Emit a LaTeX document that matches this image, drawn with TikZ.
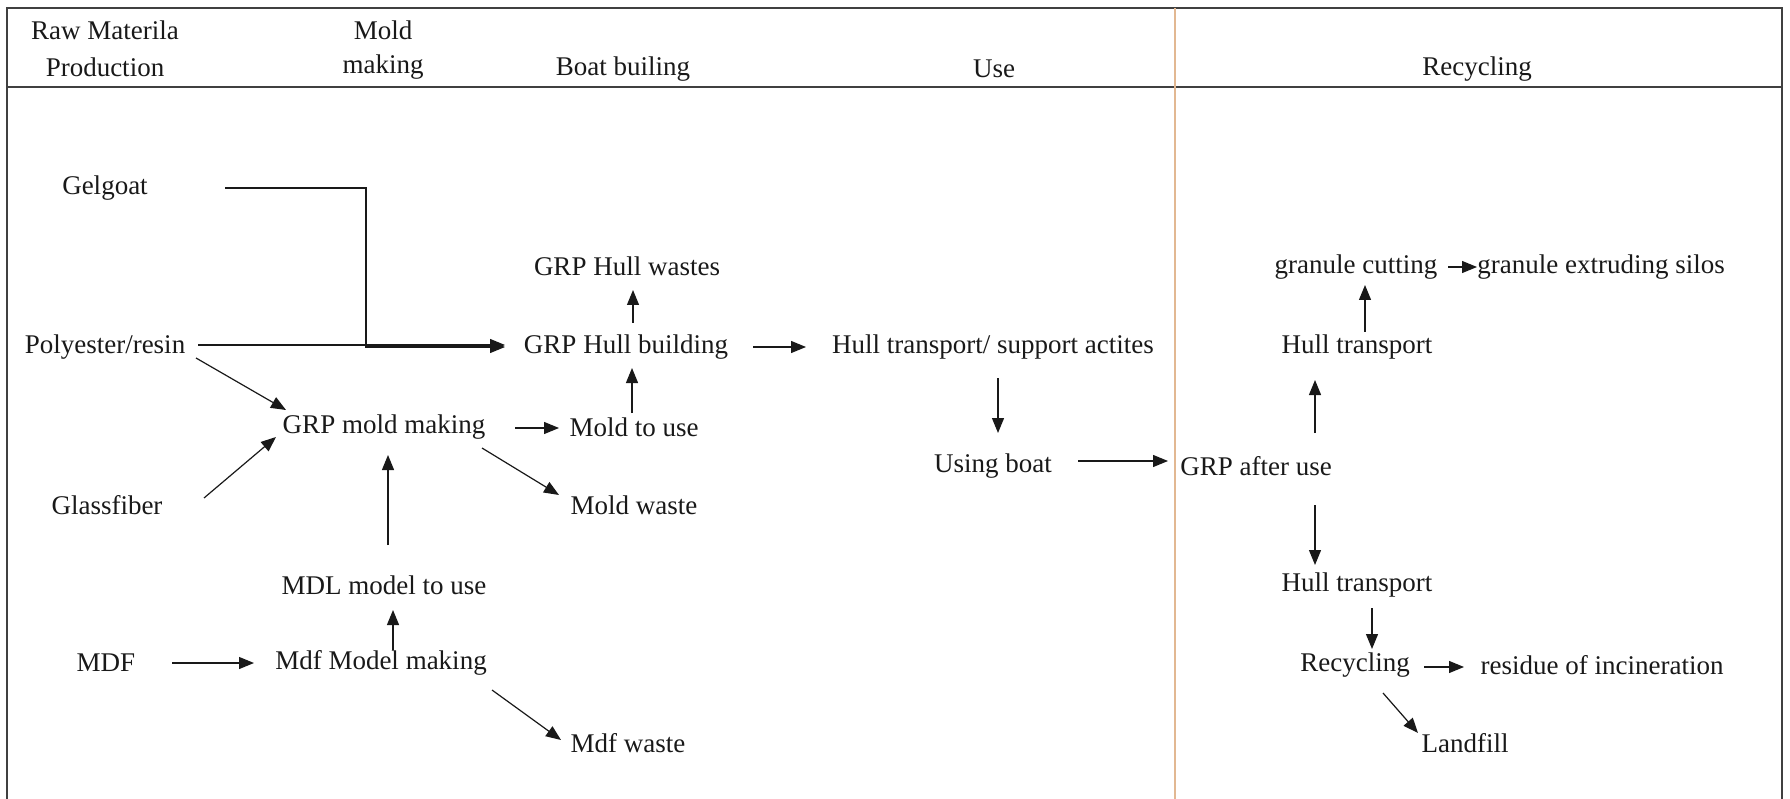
\documentclass[tikz,border=0pt]{standalone}
\usepackage{fontspec}
\setmainfont{Liberation Serif}
\usetikzlibrary{arrows.meta}
\definecolor{sepline}{RGB}{226,184,146}
\definecolor{ink}{RGB}{25,25,25}
\begin{document}
\begin{tikzpicture}[x=1pt,y=-1pt,
  lbl/.style={inner sep=0pt, font=\fontsize{27}{32}\selectfont, text=ink},
  arr/.style={draw=ink, line width=1.2pt, -{Triangle[length=15pt,width=12pt]}},
  frameline/.style={draw=black!75, line width=1.8pt}]
\useasboundingbox (0,0) rectangle (1790,799);
% frame
\draw[frameline] (7,802) -- (7,8) -- (1782,8) -- (1782,802);
\draw[frameline] (7,87) -- (1782,87);
\draw[draw=sepline, line width=1.3pt] (1175,8) -- (1175,802);
% header
\node[lbl] (h1a) at (105,30) {Raw Materila};
\node[lbl] (h1b) at (105,67) {Production};
\node[lbl] (h2a) at (383,30) {Mold};
\node[lbl] (h2b) at (383,67) {making};
\node[lbl] (h3) at (623,69) {Boat builing};
\node[lbl] (h4) at (994,69) {Use};
\node[lbl] (h5) at (1477,69) {Recycling};
% nodes
\node[lbl] (gel) at (105,188) {Gelgoat};
\node[lbl] (poly) at (105,347) {Polyester/resin};
\node[lbl] (hullw) at (627,266) {GRP Hull wastes};
\node[lbl] (hullb) at (626,347) {GRP Hull building};
\node[lbl] (hts) at (993,347) {Hull transport/ support actites};
\node[lbl] (moldm) at (384,427) {GRP mold making};
\node[lbl] (mtu) at (634,427) {Mold to use};
\node[lbl] (mw) at (634,505) {Mold waste};
\node[lbl] (boat) at (993,466) {Using boat};
\node[lbl] (after) at (1256,466) {GRP after use};
\node[lbl] (glass) at (107,505) {Glassfiber};
\node[lbl] (mdl) at (384,585) {MDL model to use};
\node[lbl] (mdf) at (106,663) {MDF};
\node[lbl] (mdfm) at (381,663) {Mdf Model making};
\node[lbl] (mdfw) at (628,743) {Mdf waste};
\node[lbl] (gc) at (1356,267) {granule cutting};
\node[lbl] (ges) at (1601,267) {granule extruding silos};
\node[lbl] (htu) at (1357,347) {Hull transport};
\node[lbl] (htl) at (1357,585) {Hull transport};
\node[lbl] (rec) at (1355,665) {Recycling};
\node[lbl] (res) at (1602,665) {residue of incineration};
\node[lbl] (land) at (1465,743) {Landfill};
% connectors
\draw[arr] ([shift={(120,0)}]gel.center) -| ([shift={(-260,0)}]hullb.center) -- ([shift={(-121,0)}]hullb.center);
\draw[arr] ([shift={(93,-2)}]poly.center) -- ([shift={(-121,-2)}]hullb.center);
\draw[arr] ([shift={(91,11)}]poly.center) -- ([shift={(-98,-17)}]moldm.center);
\draw[arr] ([shift={(97,-7)}]glass.center) -- ([shift={(-108,10)}]moldm.center);
\draw[arr] ([shift={(131,1)}]moldm.center) -- ([shift={(-75,1)}]mtu.center);
\draw[arr] ([shift={(98,21)}]moldm.center) -- ([shift={(-75,-10)}]mw.center);
\draw[arr] ([shift={(-2,-14)}]mtu.center) -- ([shift={(6,21)}]hullb.center);
\draw[arr] ([shift={(7,-24)}]hullb.center) -- ([shift={(6,24)}]hullw.center);
\draw[arr] ([shift={(127,0)}]hullb.center) -- ([shift={(-187,0)}]hts.center);
\draw[arr] ([shift={(5,31)}]hts.center) -- ([shift={(5,-33)}]boat.center);
\draw[arr] ([shift={(85,-5)}]boat.center) -- ([shift={(-88,-5)}]after.center);
\draw[arr] ([shift={(4,-40)}]mdl.center) -- ([shift={(4,28)}]moldm.center);
\draw[arr] ([shift={(12,-13)}]mdfm.center) -- ([shift={(9,25)}]mdl.center);
\draw[arr] ([shift={(66,0)}]mdf.center) -- ([shift={(-127,0)}]mdfm.center);
\draw[arr] ([shift={(111,27)}]mdfm.center) -- ([shift={(-67,-3)}]mdfw.center);
\draw[arr] ([shift={(59,-33)}]after.center) -- ([shift={(-42,33)}]htu.center);
\draw[arr] ([shift={(8,-15)}]htu.center) -- ([shift={(9,18)}]gc.center);
\draw[arr] ([shift={(92,0)}]gc.center) -- ([shift={(-124,0)}]ges.center);
\draw[arr] ([shift={(59,39)}]after.center) -- ([shift={(-42,-20)}]htl.center);
\draw[arr] ([shift={(15,23)}]htl.center) -- ([shift={(17,-16)}]rec.center);
\draw[arr] ([shift={(69,2)}]rec.center) -- ([shift={(-138,2)}]res.center);
\draw[arr] ([shift={(28,28)}]rec.center) -- ([shift={(-47,-10)}]land.center);
\end{tikzpicture}
\end{document}
